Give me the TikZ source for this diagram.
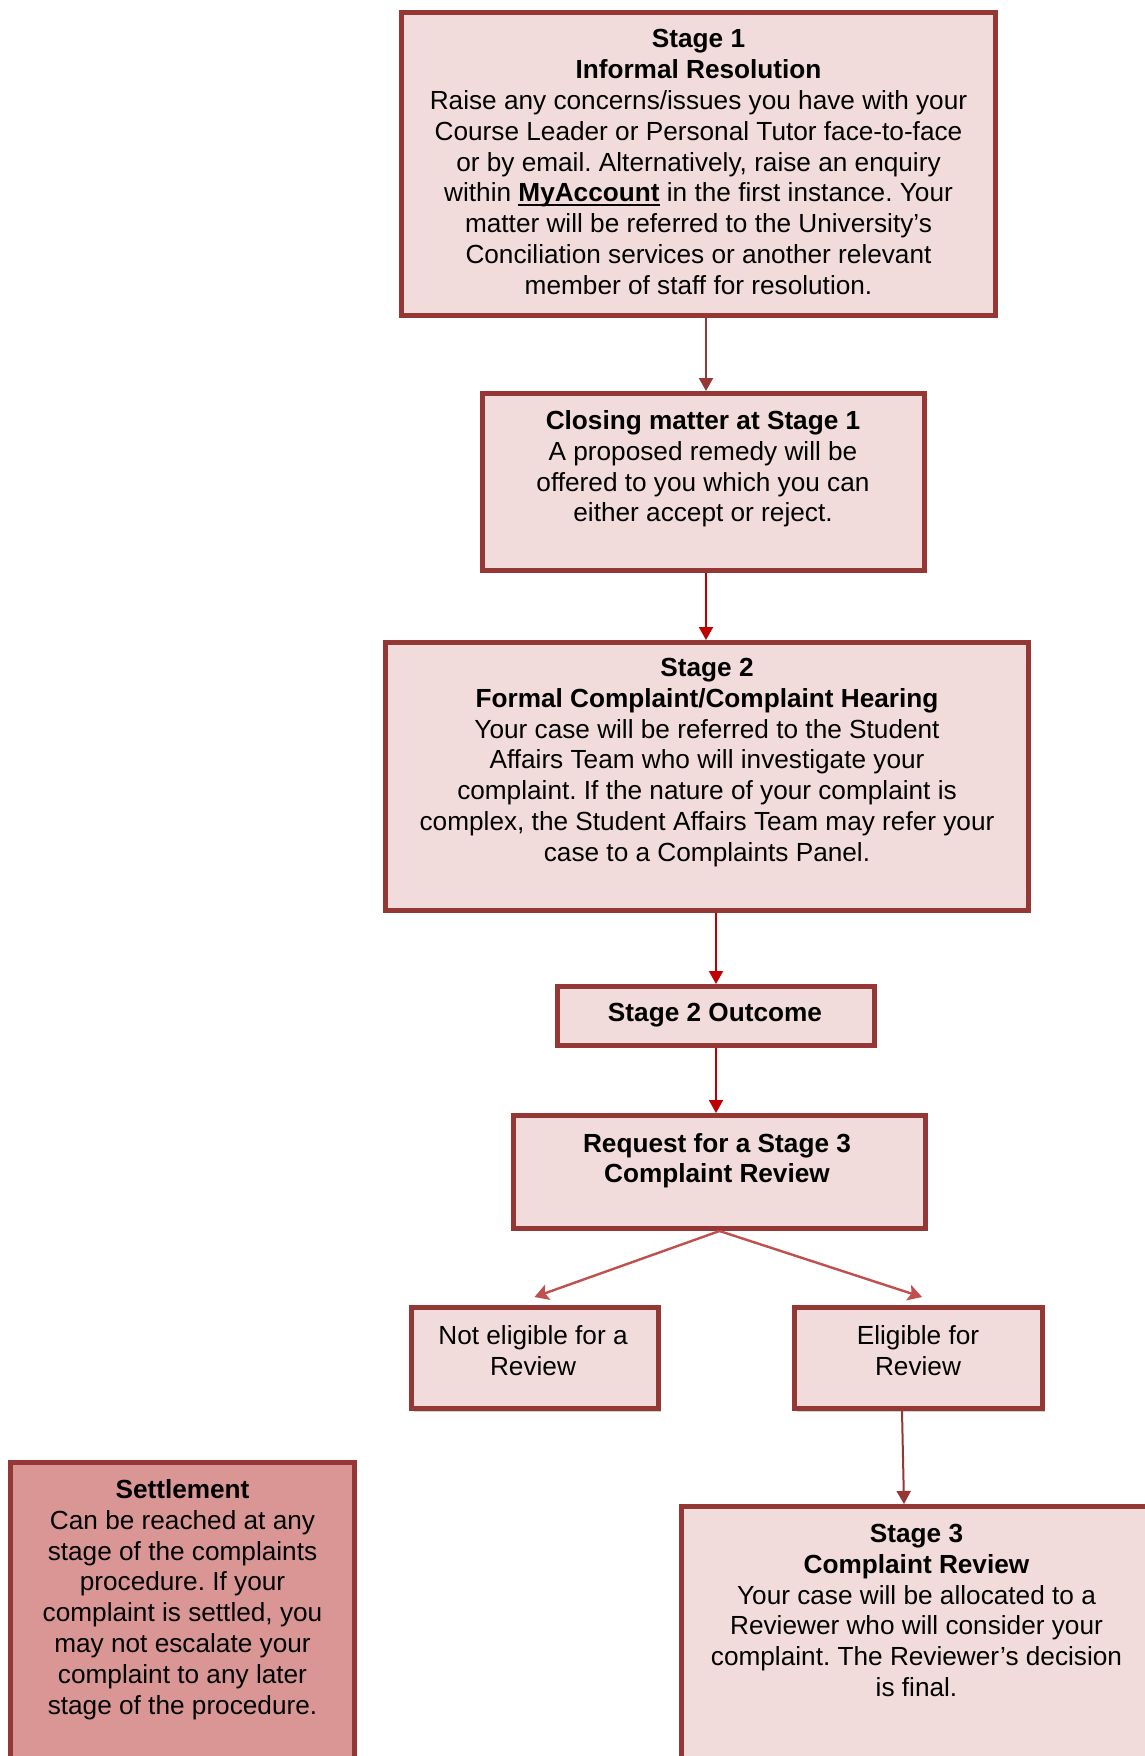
\documentclass[tikz,border=0pt]{standalone}
\usepackage{fontspec}
\setmainfont{Liberation Sans}
\usetikzlibrary{fit,arrows.meta,shadows}
\definecolor{bord}{RGB}{149,55,53}
\definecolor{pinkfill}{RGB}{242,220,219}
\definecolor{setfill}{RGB}{217,150,148}
\definecolor{redarr}{RGB}{192,0,0}
\definecolor{lightarr}{RGB}{192,80,77}
\newcommand\myul[1]{\setbox0\hbox{#1}\rlap{\rule[-2.2pt]{\wd0}{1pt}}\box0\relax}
\frenchspacing
\begin{document}
\begin{tikzpicture}[x=0.5pt,y=-0.5pt,
  box/.style={draw=bord,line width=2.4pt,fill=pinkfill,inner sep=0pt},
  setbox/.style={box,fill=setfill},
  shbox/.style={box,drop shadow={shadow xshift=1.2pt,shadow yshift=-1.6pt,fill=black,opacity=0.18}},
  txt/.style={align=center,inner sep=0pt,anchor=north,font=\fontsize{13.1}{15.4}\selectfont},
  arrD/.style={draw=bord,line width=1pt,-{Triangle[width=7pt,length=6.5pt]}},
  arrR/.style={draw=redarr,line width=1pt,-{Triangle[width=7pt,length=6.5pt]}},
  arrL/.style={draw=lightarr,line width=1.2pt,-{Stealth[width=8pt,length=7pt,inset=1.5pt]}}]
\useasboundingbox (0,0) rectangle (1145,1756);
\clip (0,0) rectangle (1145,1756);
\fill[white] (0,0) rectangle (1145,1756);

\node[box,fit={(401.4,12.4) (995.6,315.6)}] (s1) {};
\node[box,fit={(482.4,393.4) (924.6,570.6)}] (s2) {};
\node[box,fit={(385.4,642.4) (1028.6,910.6)}] (s3) {};
\node[box,fit={(557.4,986.4) (874.6,1045.6)}] (s4) {};
\node[box,fit={(513.4,1115.4) (925.6,1228.6)}] (s5) {};
\node[shbox,fit={(411.4,1307.4) (658.6,1408.6)}] (s6) {};
\node[shbox,fit={(794.4,1307.4) (1042.6,1408.6)}] (s7) {};
\node[box,fit={(681.4,1506.4) (1152.6,1800)}] (s8) {};
\node[setbox,fit={(10.4,1462.4) (354.6,1800)}] (s9) {};

\node[txt] (t1) at (698.5,29.2) {\textbf{Stage 1}\\\textbf{Informal Resolution}\\
Raise any concerns/issues you have with your\\
Course Leader or Personal Tutor face-to-face\\
or by email. Alternatively, raise an enquiry\\
within \myul{\textbf{MyAccount}} in the first instance. Your\\
matter will be referred to the University’s\\
Conciliation services or another relevant\\
member of staff for resolution.};
\node[txt] (t2) at (703,410.2) {\textbf{Closing matter at Stage 1}\\
A proposed remedy will be\\
offered to you which you can\\
either accept or reject.};
\node[txt] (t3) at (707,657.8) {\textbf{Stage 2}\\\textbf{Formal Complaint/Complaint Hearing}\\
Your case will be referred to the Student\\
Affairs Team who will investigate your\\
complaint. If the nature of your complaint is\\
complex, the Student Affairs Team may refer your\\
case to a Complaints Panel.};
\node[txt] (t4) at (715,1002.8) {\textbf{Stage 2 Outcome}};
\node[txt] (t5) at (717,1132.8) {\textbf{Request for a Stage 3}\\\textbf{Complaint Review}};
\node[txt] (t6) at (533,1325.5) {Not eligible for a\\Review};
\node[txt] (t7) at (918,1325.5) {Eligible for\\Review};
\node[txt] (t8) at (916.5,1523.8) {\textbf{Stage 3}\\\textbf{Complaint Review}\\
Your case will be allocated to a\\
Reviewer who will consider your\\
complaint. The Reviewer’s decision\\
is final.};
\node[txt] (t9) at (182.5,1479) {\textbf{Settlement}\\
Can be reached at any\\
stage of the complaints\\
procedure. If your\\
complaint is settled, you\\
may not escalate your\\
complaint to any later\\
stage of the procedure.};

\draw[arrD] ([xshift=3.75pt]s1.south) -- ([xshift=1.25pt]s2.north);
\draw[arrR] ([xshift=1.25pt]s2.south) -- ([xshift=-0.5pt]s3.north);
\draw[arrR] ([xshift=4.5pt]s3.south) -- (s4.north);
\draw[arrR] (s4.south) -- ([xshift=-1.75pt]s5.north);
\draw[arrL] (s5.south) -- ([xshift=-0.25pt,yshift=4pt]s6.north);
\draw[arrL] (s5.south) -- ([xshift=1.75pt,yshift=4pt]s7.north);
\draw[arrD] ([xshift=-8.25pt]s7.south) -- ([xshift=-6.5pt]s8.north);
\end{tikzpicture}
\end{document}
